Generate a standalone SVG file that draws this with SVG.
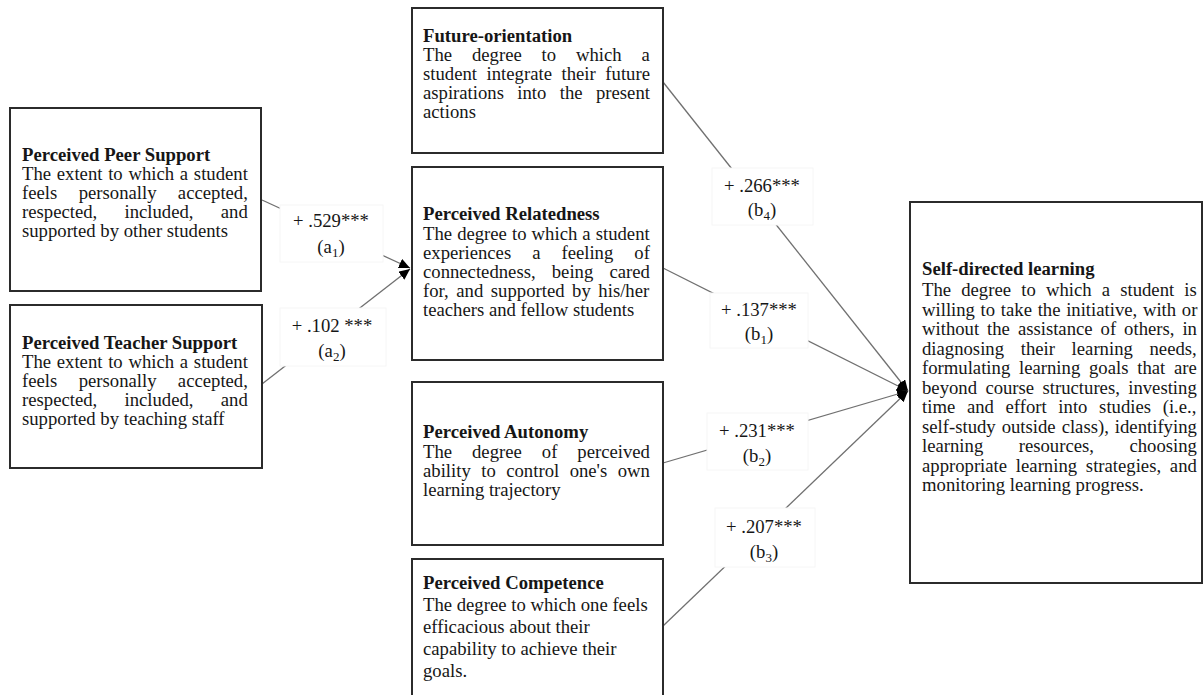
<svg xmlns="http://www.w3.org/2000/svg" width="1204" height="695" viewBox="0 0 1204 695">
<style>
.box{fill:#fff;stroke:#2b2b2b;stroke-width:2}
.t{font-family:"Liberation Serif","Times New Roman",serif;font-size:18.7px;fill:#161616}
.b{font-weight:bold}
.lbl{fill:#fff;stroke:#f6f6f6;stroke-width:1}
.c{text-anchor:middle}
.ln{stroke:#707070;stroke-width:1.3;fill:none}
</style>
<defs>
<marker id="ah" markerUnits="userSpaceOnUse" markerWidth="12" markerHeight="10" refX="11" refY="5" orient="auto">
<path d="M0,0 L11,5 L0,10 z" fill="#000"/>
</marker>
</defs>

<g id="connectors">
<line class="ln" x1="262" y1="200" x2="410" y2="268" marker-end="url(#ah)"/>
<line class="ln" x1="262" y1="384" x2="410" y2="269" marker-end="url(#ah)"/>
<line class="ln" x1="663" y1="82" x2="908" y2="391" marker-end="url(#ah)"/>
<line class="ln" x1="663" y1="268" x2="908" y2="391" marker-end="url(#ah)"/>
<line class="ln" x1="663" y1="463" x2="908" y2="391" marker-end="url(#ah)"/>
<line class="ln" x1="663" y1="626" x2="908" y2="391" marker-end="url(#ah)"/>
</g>

<g id="labels">
<g id="label-a1">
<rect class="lbl" x="280" y="205" width="103" height="57"/>
<text class="t c" x="331" y="227">+ .529***</text>
<text class="t c" x="331" y="253">(a<tspan font-size="13" dy="4">1</tspan><tspan dy="-4">)</tspan></text>
</g>
<g id="label-a2">
<rect class="lbl" x="280" y="308" width="106" height="58"/>
<text class="t c" x="332" y="332">+ .102 ***</text>
<text class="t c" x="332" y="357">(a<tspan font-size="13" dy="4">2</tspan><tspan dy="-4">)</tspan></text>
</g>
<g id="label-b4">
<rect class="lbl" x="712" y="168" width="101" height="57"/>
<text class="t c" x="762" y="192">+ .266***</text>
<text class="t c" x="762" y="216">(b<tspan font-size="13" dy="4">4</tspan><tspan dy="-4">)</tspan></text>
</g>
<g id="label-b1">
<rect class="lbl" x="710" y="293" width="98" height="55"/>
<text class="t c" x="759" y="316">+ .137***</text>
<text class="t c" x="759" y="340">(b<tspan font-size="13" dy="4">1</tspan><tspan dy="-4">)</tspan></text>
</g>
<g id="label-b2">
<rect class="lbl" x="707" y="413" width="101" height="57"/>
<text class="t c" x="757" y="437">+ .231***</text>
<text class="t c" x="757" y="462">(b<tspan font-size="13" dy="4">2</tspan><tspan dy="-4">)</tspan></text>
</g>
<g id="label-b3">
<rect class="lbl" x="715" y="508" width="100" height="59"/>
<text class="t c" x="764" y="533">+ .207***</text>
<text class="t c" x="764" y="558">(b<tspan font-size="13" dy="4">3</tspan><tspan dy="-4">)</tspan></text>
</g>
</g>

<g id="node-peer">
<rect class="box" x="10" y="108" width="251" height="183"/>
<text class="t b" x="22" y="161">Perceived Peer Support</text>
<text class="t" x="22" y="180" word-spacing="1.06">The extent to which a student</text>
<text class="t" x="22" y="199" word-spacing="16.7">feels personally accepted,</text>
<text class="t" x="22" y="218" word-spacing="22.6">respected, included, and</text>
<text class="t" x="22" y="237">supported by other students</text>
</g>

<g id="node-teacher">
<rect class="box" x="10" y="305" width="252" height="163"/>
<text class="t b" x="22" y="349">Perceived Teacher Support</text>
<text class="t" x="22" y="368" word-spacing="1.06">The extent to which a student</text>
<text class="t" x="22" y="387" word-spacing="16.7">feels personally accepted,</text>
<text class="t" x="22" y="406" word-spacing="22.6">respected, included, and</text>
<text class="t" x="22" y="425">supported by teaching staff</text>
</g>

<g id="node-future">
<rect class="box" x="412" y="8" width="251" height="145"/>
<text class="t b" x="423" y="42">Future-orientation</text>
<text class="t" x="423" y="61" word-spacing="15.2">The degree to which a</text>
<text class="t" x="423" y="80" word-spacing="4.9">student integrate their future</text>
<text class="t" x="423" y="99" word-spacing="8.7">aspirations into the present</text>
<text class="t" x="423" y="118">actions</text>
</g>

<g id="node-relatedness">
<rect class="box" x="412" y="167" width="251" height="193"/>
<text class="t b" x="423" y="220">Perceived Relatedness</text>
<text class="t" x="423" y="240" word-spacing="0.4">The degree to which a student</text>
<text class="t" x="423" y="259" word-spacing="16.3">experiences a feeling of</text>
<text class="t" x="423" y="278" word-spacing="11.5">connectedness, being cared</text>
<text class="t" x="423" y="297" word-spacing="2.9">for, and supported by his/her</text>
<text class="t" x="423" y="316">teachers and fellow students</text>
</g>

<g id="node-autonomy">
<rect class="box" x="412" y="382" width="251" height="163"/>
<text class="t b" x="423" y="438">Perceived Autonomy</text>
<text class="t" x="423" y="458" word-spacing="15.3">The degree of perceived</text>
<text class="t" x="423" y="477" word-spacing="5.8">ability to control one's own</text>
<text class="t" x="423" y="496">learning trajectory</text>
</g>

<g id="node-competence">
<rect class="box" x="412" y="559" width="251" height="150"/>
<text class="t b" x="423" y="589">Perceived Competence</text>
<text class="t" x="423" y="611">The degree to which one feels</text>
<text class="t" x="423" y="633">efficacious about their</text>
<text class="t" x="423" y="655">capability to achieve their</text>
<text class="t" x="423" y="677">goals.</text>
</g>

<g id="node-sdl">
<rect class="box" x="910" y="202" width="292" height="381"/>
<text class="t b" x="922" y="275">Self-directed learning</text>
<text class="t" x="922" y="296" word-spacing="5.5">The degree to which a student is</text>
<text class="t" x="922" y="315.5" word-spacing="1.0">willing to take the initiative, with or</text>
<text class="t" x="922" y="335" word-spacing="3.3">without the assistance of others, in</text>
<text class="t" x="922" y="354.5" word-spacing="12.0">diagnosing their learning needs,</text>
<text class="t" x="922" y="374" word-spacing="4.1">formulating learning goals that are</text>
<text class="t" x="922" y="393.5" word-spacing="3.7">beyond course structures, investing</text>
<text class="t" x="922" y="413" word-spacing="7.0">time and effort into studies (i.e.,</text>
<text class="t" x="922" y="432.5" word-spacing="1.3">self-study outside class), identifying</text>
<text class="t" x="922" y="452" word-spacing="30.8">learning resources, choosing</text>
<text class="t" x="922" y="471.5" word-spacing="4.1">appropriate learning strategies, and</text>
<text class="t" x="922" y="491">monitoring learning progress.</text>
</g>
</svg>
